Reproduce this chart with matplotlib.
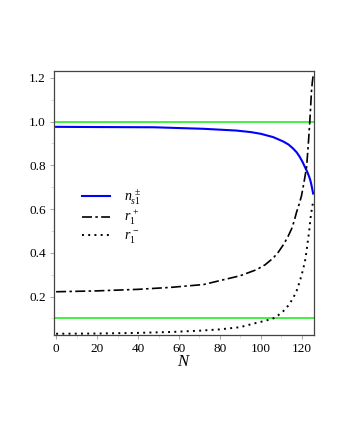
import matplotlib
matplotlib.use("Agg")
import matplotlib.pyplot as plt
import numpy as np

plt.rcParams['font.family'] = ['Liberation Serif', 'DejaVu Serif']
plt.rcParams['mathtext.fontset'] = 'custom'
plt.rcParams['mathtext.it'] = 'Liberation Serif:italic'
plt.rcParams['mathtext.rm'] = 'Liberation Serif'

# blue curve n_s1^±
N_n = [0, 20, 47.8, 72, 88, 95, 100, 106, 110.9, 113.5, 115.8, 117.5, 119, 120.3,
       121.5, 122.6, 123.6, 124.2, 124.7, 125.1, 125.5]
n_s1 = [0.976, 0.975, 0.974, 0.967, 0.959, 0.952, 0.944, 0.929, 0.909, 0.895, 0.876, 0.859,
        0.838, 0.816, 0.792, 0.771, 0.747, 0.729, 0.709, 0.690, 0.671]

# dash-dot r_1^+
N_rp = [0, 20, 40, 56, 72, 89.8, 97.9, 102, 106, 108.5, 110.9, 113, 115, 116.3, 117.4,
        118.6, 119.8, 121, 122.3, 123.1, 123.9, 124.3, 124.7, 125.1, 125.5]
r_plus = [0.222, 0.226, 0.233, 0.242, 0.255, 0.295, 0.323, 0.345, 0.376, 0.403, 0.436,
          0.47, 0.51, 0.547, 0.586, 0.62, 0.66, 0.72, 0.792, 0.89, 1.005, 1.07, 1.14,
          1.18, 1.21]

# dotted r_1^-
N_rm = [0, 20, 40, 56, 70, 80, 89.8, 97.9, 102, 106, 108.5, 110.9, 113.5, 115.8, 117.5,
        119, 120.3, 121.5, 122.3, 123.1, 123.7, 124.2, 124.7, 125.2, 125.5]
r_minus = [0.030, 0.031, 0.034, 0.038, 0.044, 0.050, 0.060, 0.080, 0.089, 0.100, 0.115,
           0.133, 0.160, 0.194, 0.228, 0.27, 0.314, 0.36, 0.41, 0.467, 0.51, 0.557,
           0.59, 0.618, 0.63]

green_levels = [1.0, 0.1]

fig = plt.figure(figsize=(3.4, 4.4), dpi=100)
ax = fig.add_axes([0.159, 0.239, 0.765, 0.600])

for g in green_levels:
    ax.axhline(g, color='#22ee22', lw=1.2)

ax.plot(N_n, n_s1, color='#0000ff', lw=1.5, label=r'$n_{s1}^{\,\pm}$')
ax.plot(N_rp, r_plus, color='black', lw=1.2, dashes=[6, 2, 1.5, 2], label=r'$r_1^{\,+}$')
ax.plot(N_rm, r_minus, color='black', lw=1.4, ls=(0, (1, 2.2)), label=r'$r_1^{\,-}$')

ax.set_xlim(-1, 126)
ax.set_ylim(0.025, 1.232)
ax.set_xticks([0, 20, 40, 60, 80, 100, 120])
ax.set_yticks([0.2, 0.4, 0.6, 0.8, 1.0, 1.2])
ax.set_yticklabels(['0.2', '0.4', '0.6', '0.8', '1.0', '1.2'])
ax.set_xticks(np.arange(0, 126, 10), minor=True)
ax.set_yticks(np.arange(0.1, 1.25, 0.1), minor=True)
ax.tick_params(axis='both', which='major', labelsize=9.5, length=3, width=0.6, color='#999999', pad=3)
ax.tick_params(axis='both', which='minor', length=2, width=0.5, color='#cccccc')
for s in ax.spines.values():
    s.set_color('#444444')
    s.set_linewidth(0.9)

ax.set_xlabel(r'$N$', fontsize=12, labelpad=-1)

leg = ax.legend(loc='upper left', bbox_to_anchor=(0.06, 0.605), frameon=False,
                fontsize=10, handlelength=2.0, handletextpad=1.0, labelspacing=0.12)

fig.savefig('out.png', dpi=100)
